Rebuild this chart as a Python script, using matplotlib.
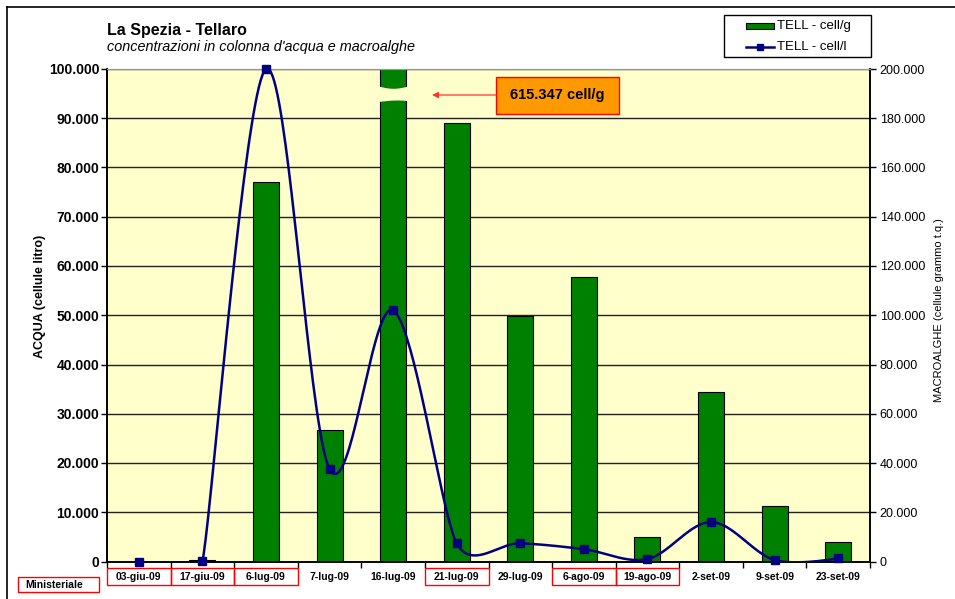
import numpy as np
import matplotlib
matplotlib.use("Agg")
import matplotlib.pyplot as plt
import matplotlib.ticker as plticker
from matplotlib.patches import Rectangle
from matplotlib.lines import Line2D
import matplotlib.transforms as mtransforms

plt.rcParams['font.family'] = ['Liberation Sans', 'DejaVu Sans']

# sampling dates (Tellaro station)
dates = ["03-giu-09", "17-giu-09", "6-lug-09", "7-lug-09", "16-lug-09", "21-lug-09",
         "29-lug-09", "6-ago-09", "19-ago-09", "2-set-09", "9-set-09", "23-set-09"]
# macroalgae, cells per gram (right axis)
cell_g = [0, 800, 154000, 53500, 615347, 178000, 99500, 115500, 10000, 69000, 22500, 8000]
# water column, cells per litre (left axis)
cell_l = [0, 100, 100000, 18800, 51000, 3700, 3700, 2500, 500, 8000, 300, 650]
# ministerial sampling dates
ministeriale = [1, 1, 1, 0, 0, 1, 0, 1, 1, 0, 0, 0]

GREEN = '#008000'
NAVY = '#000080'
BG = '#FFFFCC'

W, H = 955, 599
fig = plt.figure(figsize=(W / 100, H / 100), dpi=100)
L, R, T, B = 107, 870, 69, 561.5
ax2 = fig.add_axes([L / W, 1 - B / H, (R - L) / W, (B - T) / H])   # bars, right scale
ax = ax2.twinx()                                                   # line, left scale
ax.yaxis.tick_left()
ax.yaxis.set_label_position('left')
ax2.yaxis.tick_right()
ax2.yaxis.set_label_position('right')

x = np.arange(len(dates))
ax2.set_facecolor(BG)
ax2.set_xlim(-0.5, len(dates) - 0.5)
ax2.set_ylim(0, 200000)
ax.set_ylim(0, 100000)

# gridlines behind the bars
ax2.yaxis.set_major_locator(plticker.MultipleLocator(20000))
ax.yaxis.set_major_locator(plticker.MultipleLocator(10000))
ax2.set_axisbelow(True)
ax2.yaxis.grid(True, color='#222222', linewidth=1.0)

ax2.bar(x, cell_g, width=0.41, color=GREEN, edgecolor='black', linewidth=0.8, zorder=2)

# broken bar for the 16-lug value
s = np.linspace(0, 1, 40)
xb = 4 - 0.23 + 0.46 * s
px2val = lambda p: (B - p) * 200000 / (B - T)
upper = px2val(86 + 2.3 * np.sin(np.pi * s))
lower = px2val(101.5 - 1.5 * np.sin(np.pi * s * 0.8))
ax2.fill_between(xb, lower, upper, color=BG, linewidth=0, zorder=3)


def excel_smooth(xs, ys, sx, sy, n=40):
    # bezier smoothing with handle length capped at half the shorter neighbour segment
    P = np.column_stack([np.asarray(xs, float) * sx, np.asarray(ys, float) * sy])
    m = len(P)
    hin = np.zeros_like(P)
    hout = np.zeros_like(P)
    for i in range(1, m - 1):
        d01 = np.hypot(*(P[i] - P[i - 1]))
        d12 = np.hypot(*(P[i + 1] - P[i]))
        d02 = np.hypot(*(P[i + 1] - P[i - 1]))
        f = min(1 / 6, d01 / (2 * d02), d12 / (2 * d02))
        h = f * (P[i + 1] - P[i - 1])
        hin[i] = -h
        hout[i] = h
    out = []
    t = np.linspace(0, 1, n)[:, None]
    for i in range(m - 1):
        p1, p2 = P[i], P[i + 1]
        c1, c2 = p1 + hout[i], p2 + hin[i + 1]
        out.append((1 - t) ** 3 * p1 + 3 * (1 - t) ** 2 * t * c1 + 3 * (1 - t) * t ** 2 * c2 + t ** 3 * p2)
    out = np.vstack(out)
    return out[:, 0] / sx, out[:, 1] / sy


sx = (R - L) / len(dates)
sy = (B - T) / 100000
xs, ys = excel_smooth(x, cell_l, sx, sy)
ax.plot(xs, ys, color=NAVY, linewidth=1.8, zorder=4)
ax.plot(x, cell_l, linestyle='none', marker='s', markersize=5.5, color=NAVY, zorder=5, clip_on=False)

fmt = plticker.FuncFormatter(lambda v, p: '{:,.0f}'.format(v).replace(',', '.'))
ax.yaxis.set_major_formatter(fmt)
ax2.yaxis.set_major_formatter(fmt)
ax.tick_params(axis='y', direction='out', length=4, width=1, pad=1.5, labelsize=10)
ax2.tick_params(axis='y', direction='out', length=4, width=1, pad=3, labelsize=9)
for lab in ax.get_yticklabels():
    lab.set_fontweight('bold')

# category boundaries as ticks, labels in between
ax2.set_xticks(np.arange(-0.5, len(dates), 1), minor=True)
ax2.set_xticks(x)
ax2.set_xticklabels(dates, fontsize=7.5, fontweight='bold')
ax2.tick_params(axis='x', which='major', length=0, pad=7.5)
ax2.tick_params(axis='x', which='minor', direction='out', length=4, width=1)

for a in (ax, ax2):
    a.spines['top'].set_color('#999999')
    a.spines['top'].set_linewidth(0.8)
    for side in ('left', 'right', 'bottom'):
        a.spines[side].set_linewidth(1.2)

ax.set_ylabel('ACQUA (cellule litro)', fontsize=9, fontweight='bold')
ax.yaxis.set_label_coords((46 - L) / (R - L), (B - 296) / (B - T))
ax2.set_ylabel('MACROALGHE (cellule grammo t.q.)', fontsize=8, rotation=90)
ax2.yaxis.set_label_coords((934 - L) / (R - L), (B - 310) / (B - T))

# red boxes round the ministerial dates
trans = mtransforms.blended_transform_factory(ax2.transData, ax2.transAxes)
y0 = (B - 584.5) / (B - T)
hbox = (584.5 - 567.5) / (B - T)
for i, flag in enumerate(ministeriale):
    if flag:
        ax2.add_patch(Rectangle((i - 0.5, y0), 1, hbox, transform=trans, fill=False,
                                edgecolor='red', linewidth=1.0, clip_on=False))

fx = lambda p: p / W
fy = lambda p: 1 - p / H
fig.add_artist(Rectangle((fx(17.5), fy(592)), fx(98.5) - fx(17.5), fy(576.5) - fy(592),
                         transform=fig.transFigure, fill=False, edgecolor='red', linewidth=1.0))
fig.text(fx(25), fy(584.5), 'Ministeriale', fontsize=7.5, fontweight='bold', va='center', ha='left')

# value of the broken bar
tip_x = (432 - L) / sx - 0.5
box_x0 = (496 - L) / sx - 0.5
box_x1 = (619 - L) / sx - 0.5
ax2.add_patch(Rectangle((box_x0, px2val(114)), box_x1 - box_x0, px2val(77) - px2val(114),
                        facecolor='#FF9900', edgecolor='red', linewidth=1.0, clip_on=False, zorder=6))
ax2.text((box_x0 + box_x1) / 2, px2val(95.5), '615.347 cell/g', fontsize=10.5, fontweight='bold',
         ha='center', va='center', zorder=7)
ax2.annotate('', xy=(tip_x, px2val(95)), xytext=(box_x0, px2val(95)),
             arrowprops=dict(arrowstyle='-|>', color='#FF3333', lw=0.9, mutation_scale=9,
                             shrinkA=0, shrinkB=0), zorder=6)

# titles
fig.text(fx(107), fy(30), 'La Spezia - Tellaro', fontsize=11.5, fontweight='bold', va='center')
fig.text(fx(107), fy(47), "concentrazioni in colonna d'acqua e macroalghe", fontsize=10.4,
         style='italic', va='center')

# legend, laid out by hand
fig.add_artist(Rectangle((fx(724), fy(57.3)), fx(871) - fx(724), fy(14.7) - fy(57.3),
                         transform=fig.transFigure, facecolor='white', edgecolor='black', linewidth=1.0))
fig.add_artist(Rectangle((fx(746), fy(28.5)), fx(774) - fx(746), fy(22.7) - fy(28.5),
                         transform=fig.transFigure, facecolor=GREEN, edgecolor='black', linewidth=0.8))
fig.add_artist(Line2D([fx(746), fx(774)], [fy(46.7), fy(46.7)], transform=fig.transFigure,
                      color=NAVY, linewidth=1.8))
fig.add_artist(Line2D([fx(760)], [fy(46.7)], transform=fig.transFigure, color=NAVY,
                      marker='s', markersize=5))
fig.text(fx(777), fy(25.7), 'TELL - cell/g', fontsize=9.5, va='center')
fig.text(fx(777), fy(46.7), 'TELL - cell/l', fontsize=9.5, va='center')

# outer frame
fig.add_artist(Line2D([fx(7.3), fx(7.3)], [0, fy(7.3)], transform=fig.transFigure, color='black', lw=1.2))
fig.add_artist(Line2D([fx(7.3), 1], [fy(7.3), fy(7.3)], transform=fig.transFigure, color='black', lw=1.2))

fig.savefig('out.png', dpi=100)
